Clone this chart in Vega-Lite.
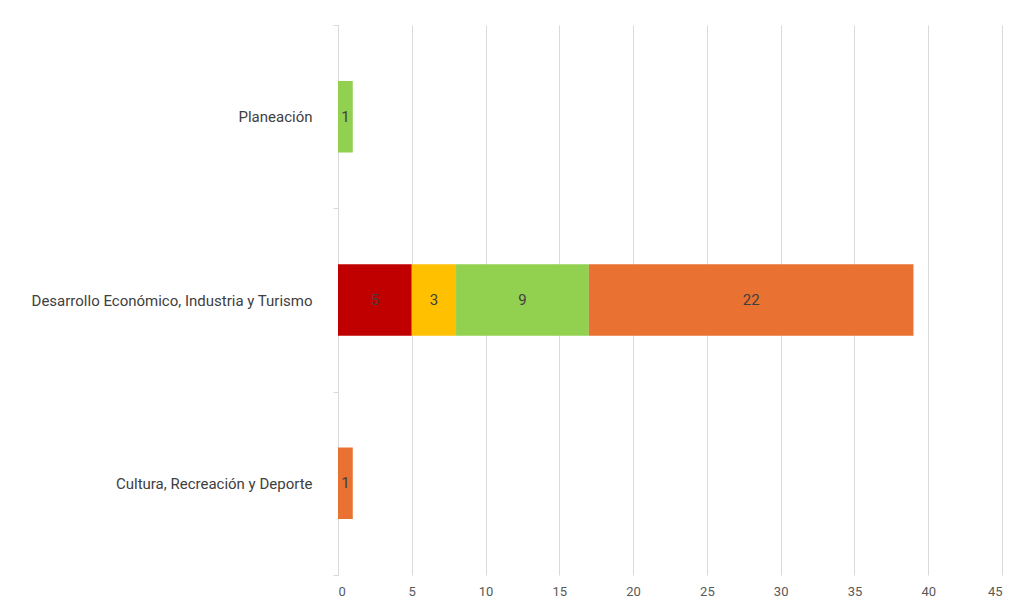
{
  "$schema": "https://vega.github.io/schema/vega-lite/v6.json",
  "autosize": {"type": "none"},
  "width": 664,
  "height": 550,
  "padding": {"left": 338, "top": 25, "right": 12, "bottom": 36},
  "background": "white",
  "config": {"view": {"stroke": null}, "font": "Roboto"},
  "data": {
    "values": [
      {"categoria": "Planeación", "estado": "Verde", "orden": 3, "valor": 1},
      {"categoria": "Desarrollo Económico, Industria y Turismo", "estado": "Rojo", "orden": 1, "valor": 5},
      {"categoria": "Desarrollo Económico, Industria y Turismo", "estado": "Amarillo", "orden": 2, "valor": 3},
      {"categoria": "Desarrollo Económico, Industria y Turismo", "estado": "Verde", "orden": 3, "valor": 9},
      {"categoria": "Desarrollo Económico, Industria y Turismo", "estado": "Naranja", "orden": 4, "valor": 22},
      {"categoria": "Cultura, Recreación y Deporte", "estado": "Naranja", "orden": 4, "valor": 1}
    ]
  },
  "transform": [
    {"stack": "valor", "groupby": ["categoria"], "sort": [{"field": "orden", "order": "ascending"}], "as": ["x0", "x1"]},
    {"calculate": "(datum.x0 + datum.x1) / 2", "as": "xm"}
  ],
  "encoding": {
    "y": {
      "field": "categoria",
      "type": "nominal",
      "sort": ["Planeación", "Desarrollo Económico, Industria y Turismo", "Cultura, Recreación y Deporte"],
      "scale": {"paddingInner": 0, "paddingOuter": 0},
      "axis": {
        "title": null,
        "tickBand": "extent",
        "domainColor": "#d9d9d9",
        "tickColor": "#d9d9d9",
        "tickSize": 5,
        "labelFontSize": 15,
        "labelColor": "#404040",
        "labelPadding": 21,
        "labelLimit": 0,
        "labelFont": "Roboto",
        "grid": false
      }
    }
  },
  "layer": [
    {
      "mark": {"type": "bar", "height": {"band": 0.39}},
      "encoding": {
        "x": {
          "field": "x0",
          "type": "quantitative",
          "scale": {"domain": [0, 45], "nice": false},
          "axis": {
            "title": null,
            "values": [0, 5, 10, 15, 20, 25, 30, 35, 40, 45],
            "grid": true,
            "gridColor": "#d9d9d9",
            "domain": false,
            "ticks": false,
            "labelFontSize": 13,
            "labelColor": "#595959",
            "labelPadding": 10,
            "labelFont": "Roboto"
          }
        },
        "x2": {"field": "x1"},
        "color": {
          "field": "estado",
          "type": "nominal",
          "scale": {"domain": ["Rojo", "Amarillo", "Verde", "Naranja"], "range": ["#C00000", "#FFC000", "#92D050", "#E97132"]},
          "legend": null
        }
      }
    },
    {
      "mark": {"type": "text", "fontSize": 15, "color": "#404040", "font": "Roboto"},
      "encoding": {
        "x": {"field": "xm", "type": "quantitative"},
        "text": {"field": "valor", "type": "quantitative"}
      }
    }
  ]
}
